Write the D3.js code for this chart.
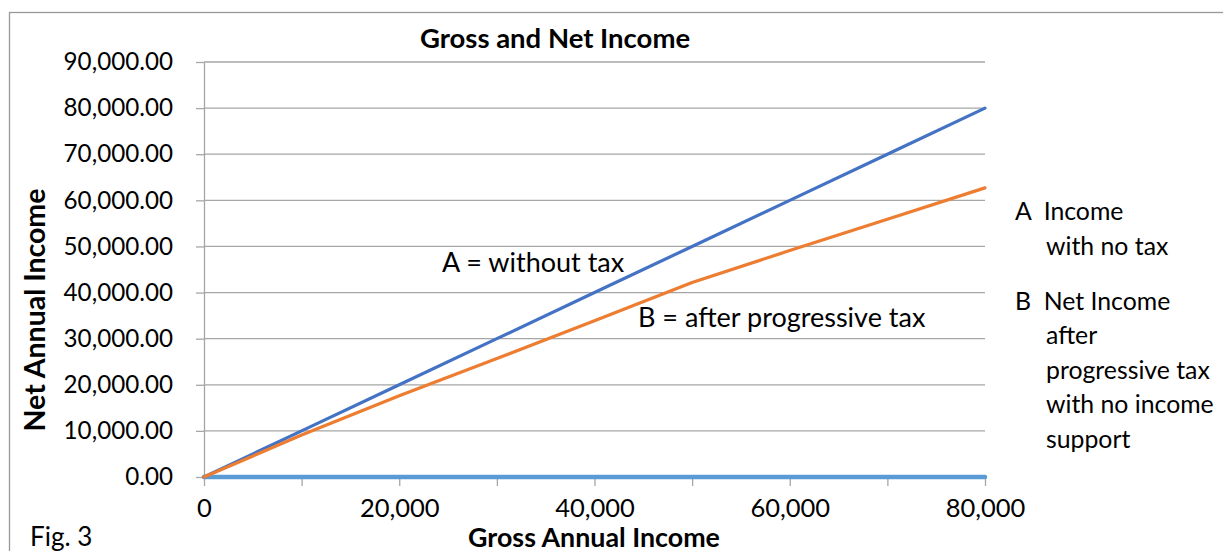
<!DOCTYPE html>
<html>
<head>
<meta charset="utf-8">
<script src="https://cdn.jsdelivr.net/npm/d3@7/dist/d3.min.js"></script>
<style>
  html, body { margin: 0; padding: 0; background: #fff; }
  svg { display: block; font-family: Lato, "Open Sans", sans-serif; }
  text { white-space: pre; }
</style>
</head>
<body>
<svg id="chart" width="1223" height="551"></svg>
<script>
// ---- data ----
const grossIncome      = [0, 10000, 20000, 30000, 40000, 50000, 60000, 70000, 80000];
const netWithoutTax    = [0, 10000, 20000, 30000, 40000, 50000, 60000, 70000, 80000];
const netProgressive   = [0, 9100, 17600, 25700, 33900, 42200, 49100, 55900, 62700];
const incomeSupport    = [0, 0, 0, 0, 0, 0, 0, 0, 0];
const yTickValues      = [0, 10000, 20000, 30000, 40000, 50000, 60000, 70000, 80000, 90000];
const xTickValues      = [0, 10000, 20000, 30000, 40000, 50000, 60000, 70000, 80000];
const xLabelValues     = [0, 20000, 40000, 60000, 80000];
const chartTitle       = "Gross and Net Income";
const xAxisTitle       = "Gross Annual Income";
const yAxisTitle       = "Net Annual Income";
const figLabel         = "Fig. 3";
const annotationA      = "A = without tax";
const annotationB      = "B = after progressive tax";
const legendLines      = [
  {text: "A  Income", indent: false},
  {text: "with no tax", indent: true},
  {text: "B  Net Income", indent: false, gap: true},
  {text: "after", indent: true},
  {text: "progressive tax", indent: true},
  {text: "with no income", indent: true},
  {text: "support", indent: true}
];

// ---- layout ----
const svg = d3.select("#chart");
const plot = {left: 204, right: 985, top: 62, bottom: 477};
const x = d3.scaleLinear().domain([0, 80000]).range([plot.left, plot.right]);
const y = d3.scaleLinear().domain([0, 90000]).range([plot.bottom, plot.top]);
const gridColor = "#a6a6a6";
const ff = "Lato, 'Open Sans', sans-serif";

// outer border
svg.append("rect")
  .attr("x", 9.5).attr("y", 12.5).attr("width", 1400).attr("height", 700)
  .attr("fill", "none").attr("stroke", "#999").attr("stroke-width", 1.3);

// gridlines
svg.append("g").selectAll("line").data(yTickValues).join("line")
  .attr("x1", plot.left).attr("x2", plot.right)
  .attr("y1", d => y(d)).attr("y2", d => y(d))
  .attr("stroke", gridColor).attr("stroke-width", 1.3);

// y axis
const yAxis = svg.append("g").attr("transform", `translate(${plot.left},0)`)
  .call(d3.axisLeft(y).tickValues(yTickValues).tickSize(8).tickSizeOuter(0)
        .tickPadding(23).tickFormat(d3.format(",.2f")));
yAxis.select(".domain").attr("stroke", gridColor).attr("stroke-width", 1.3);
yAxis.selectAll(".tick line").attr("stroke", gridColor).attr("stroke-width", 1.3);
yAxis.selectAll("text").attr("font-size", 24.2).attr("fill", "#000").attr("font-family", ff);

// x axis
const xAxis = svg.append("g").attr("transform", `translate(0,${plot.bottom})`)
  .call(d3.axisBottom(x).tickValues(xTickValues).tickSize(9).tickSizeOuter(0)
        .tickPadding(13).tickFormat(d => xLabelValues.includes(d) ? d3.format(",")(d) : ""));
xAxis.select(".domain").attr("stroke", gridColor).attr("stroke-width", 1.3);
xAxis.selectAll(".tick line").attr("stroke", gridColor).attr("stroke-width", 1.3);
xAxis.selectAll("text").attr("font-size", 25.5).attr("fill", "#000").attr("font-family", ff);

// series
const line = d3.line().x(d => x(d[0])).y(d => y(d[1]));
const series = [
  {vals: incomeSupport, color: "#5b9bd5", w: 4.5},
  {vals: netWithoutTax, color: "#4472c4", w: 3.2},
  {vals: netProgressive, color: "#ed7d31", w: 3.2}
];
svg.append("g").selectAll("path").data(series).join("path")
  .attr("d", s => line(grossIncome.map((g, i) => [g, s.vals[i]])))
  .attr("fill", "none").attr("stroke", s => s.color).attr("stroke-width", s => s.w)
  .attr("stroke-linejoin", "round").attr("stroke-linecap", "round");

// title
svg.append("text").attr("x", 555).attr("y", 48).attr("text-anchor", "middle")
  .attr("font-weight", "bold").attr("font-size", 27.5).text(chartTitle);

// axis titles
svg.append("text").attr("x", 594).attr("y", 546.5).attr("text-anchor", "middle")
  .attr("font-weight", "bold").attr("font-size", 26.8).text(xAxisTitle);
svg.append("text").attr("transform", "translate(45,310) rotate(-90)")
  .attr("text-anchor", "middle").attr("font-weight", "bold").attr("font-size", 28.5).text(yAxisTitle);

// fig label
svg.append("text").attr("x", 30).attr("y", 546).attr("font-size", 26).text(figLabel);

// annotations
svg.append("text").attr("x", 442).attr("y", 272).attr("font-size", 27).text(annotationA);
svg.append("text").attr("x", 638).attr("y", 327).attr("font-size", 27).text(annotationB);

// legend text
let ly = 220;
legendLines.forEach((l, i) => {
  if (i > 0) ly += l.gap ? 55 : 34.5;
  svg.append("text").attr("x", l.indent ? 1046 : 1015).attr("y", ly)
    .attr("font-size", 24.8).text(l.text);
});
</script>
</body>
</html>
